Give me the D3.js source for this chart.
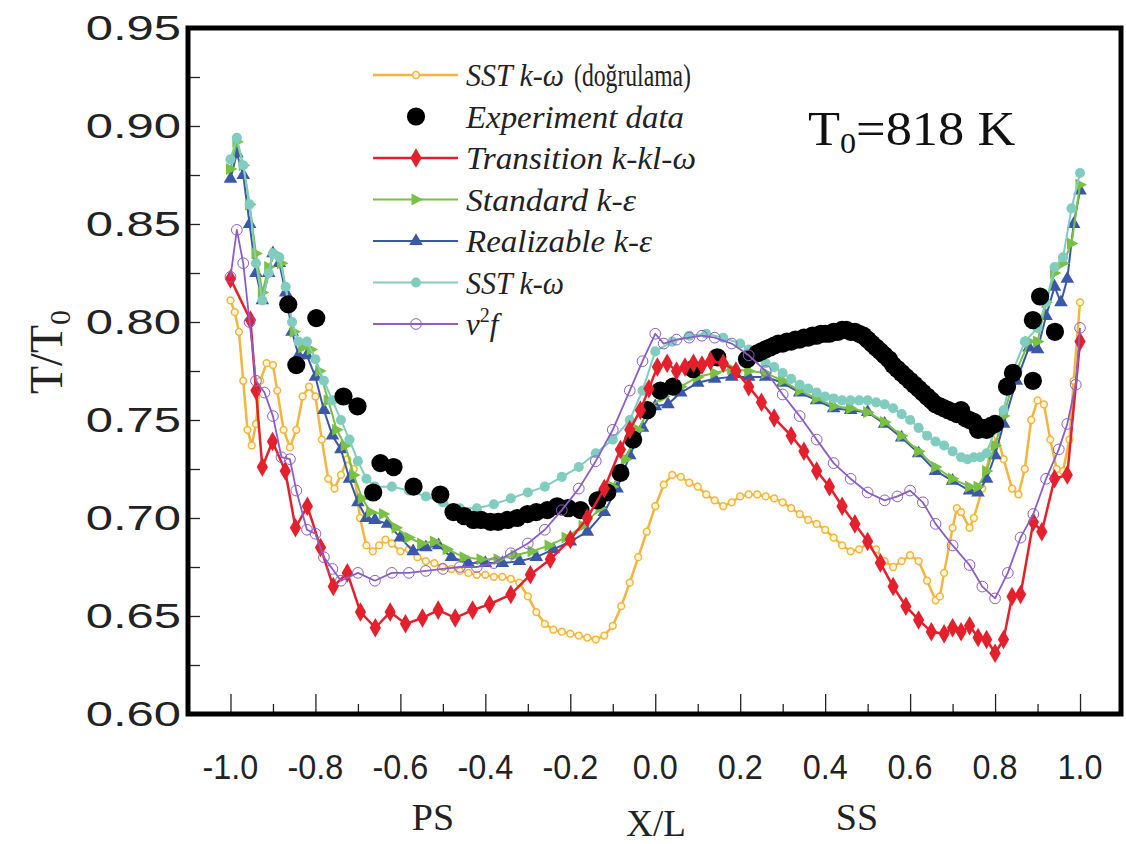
<!DOCTYPE html>
<html><head><meta charset="utf-8">
<script src="https://cdn.jsdelivr.net/npm/d3@7"></script>
<style>body{margin:0;background:#fff}svg{display:block}</style>
</head><body><svg id="c" width="1126" height="844"></svg>
<script>
// ---- data ----
const xTicks = [-1.0,-0.8,-0.6,-0.4,-0.2,0.0,0.2,0.4,0.6,0.8,1.0];
const yTicks = [0.60,0.65,0.70,0.75,0.80,0.85,0.90,0.95];

const sstValidation = [[-1.0,0.811],[-0.99,0.805],[-0.98,0.795],[-0.97,0.77],[-0.96,0.745],[-0.95,0.737],[-0.94,0.748],[-0.93,0.77],[-0.915,0.779],[-0.90,0.778],[-0.89,0.765],[-0.875,0.745],[-0.86,0.736],[-0.845,0.745],[-0.83,0.762],[-0.815,0.767],[-0.80,0.762],[-0.785,0.74],[-0.77,0.72],[-0.755,0.715],[-0.74,0.722],[-0.725,0.73],[-0.71,0.725],[-0.695,0.70],[-0.68,0.686],[-0.665,0.683],[-0.65,0.686],[-0.635,0.689],[-0.62,0.687],[-0.60,0.683],[-0.58,0.684],[-0.56,0.68],[-0.54,0.678],[-0.52,0.677],[-0.50,0.675],[-0.48,0.674],[-0.46,0.673],[-0.44,0.672],[-0.42,0.671],[-0.40,0.671],[-0.38,0.670],[-0.36,0.670],[-0.34,0.669],[-0.32,0.667],[-0.30,0.660],[-0.28,0.652],[-0.26,0.646],[-0.24,0.643],[-0.22,0.642],[-0.20,0.641],[-0.18,0.640],[-0.16,0.639],[-0.14,0.638],[-0.12,0.640],[-0.10,0.645],[-0.08,0.655],[-0.06,0.667],[-0.04,0.68],[-0.02,0.693],[0.00,0.706],[0.02,0.717],[0.04,0.722],[0.06,0.721],[0.08,0.718],[0.10,0.716],[0.12,0.712],[0.14,0.709],[0.16,0.706],[0.18,0.708],[0.20,0.711],[0.22,0.712],[0.24,0.712],[0.26,0.711],[0.28,0.710],[0.30,0.708],[0.32,0.705],[0.34,0.702],[0.36,0.699],[0.38,0.697],[0.40,0.694],[0.42,0.690],[0.44,0.686],[0.46,0.683],[0.48,0.684],[0.50,0.687],[0.52,0.684],[0.54,0.678],[0.56,0.675],[0.58,0.678],[0.60,0.681],[0.62,0.678],[0.64,0.668],[0.66,0.658],[0.67,0.66],[0.68,0.672],[0.70,0.695],[0.71,0.705],[0.72,0.703],[0.74,0.695],[0.75,0.700],[0.77,0.715],[0.79,0.735],[0.805,0.742],[0.82,0.73],[0.84,0.715],[0.855,0.712],[0.87,0.725],[0.885,0.75],[0.90,0.76],[0.915,0.758],[0.93,0.74],[0.945,0.725],[0.96,0.724],[0.975,0.74],[0.985,0.77],[1.0,0.81]];

const experiment = [[-0.864,0.809],[-0.845,0.778],[-0.798,0.802],[-0.734,0.762],[-0.701,0.757],[-0.664,0.713],[-0.647,0.728],[-0.616,0.726],[-0.569,0.716],[-0.506,0.712],[-0.475,0.703],[-0.45,0.701],[-0.428,0.699],[-0.41,0.699],[-0.388,0.698],[-0.37,0.698],[-0.348,0.699],[-0.325,0.700],[-0.301,0.702],[-0.28,0.703],[-0.254,0.704],[-0.231,0.706],[-0.205,0.705],[-0.176,0.704],[-0.136,0.709],[-0.113,0.713],[-0.082,0.723],[-0.052,0.740],[-0.019,0.755],[0.012,0.765],[0.042,0.767],[0.089,0.776],[0.146,0.782],[0.216,0.781],[0.24,0.784],[0.25,0.785],[0.26,0.786],[0.27,0.787],[0.28,0.788],[0.29,0.789],[0.30,0.789],[0.31,0.790],[0.32,0.790],[0.33,0.791],[0.34,0.791],[0.35,0.792],[0.36,0.792],[0.37,0.793],[0.38,0.793],[0.39,0.794],[0.40,0.794],[0.41,0.794],[0.42,0.795],[0.43,0.795],[0.44,0.796],[0.45,0.796],[0.46,0.795],[0.47,0.795],[0.48,0.794],[0.49,0.793],[0.50,0.791],[0.51,0.789],[0.52,0.787],[0.53,0.785],[0.54,0.783],[0.55,0.781],[0.56,0.778],[0.57,0.776],[0.58,0.774],[0.59,0.772],[0.60,0.770],[0.61,0.768],[0.62,0.766],[0.63,0.764],[0.64,0.762],[0.65,0.760],[0.66,0.758],[0.67,0.757],[0.68,0.756],[0.69,0.755],[0.70,0.754],[0.71,0.753],[0.72,0.755],[0.73,0.751],[0.74,0.750],[0.75,0.749],[0.76,0.745],[0.77,0.746],[0.78,0.745],[0.79,0.747],[0.80,0.748],[0.828,0.767],[0.842,0.774],[0.889,0.770],[0.889,0.801],[0.906,0.813],[0.941,0.795]];

const transition = [[-1.0,0.822],[-0.953,0.801],[-0.94,0.765],[-0.925,0.726],[-0.901,0.739],[-0.871,0.724],[-0.847,0.695],[-0.819,0.706],[-0.788,0.685],[-0.758,0.665],[-0.725,0.672],[-0.694,0.652],[-0.659,0.644],[-0.624,0.652],[-0.588,0.646],[-0.548,0.649],[-0.511,0.653],[-0.471,0.649],[-0.43,0.653],[-0.39,0.656],[-0.34,0.661],[-0.294,0.671],[-0.247,0.679],[-0.2,0.689],[-0.16,0.700],[-0.12,0.715],[-0.082,0.735],[-0.06,0.745],[-0.035,0.755],[-0.015,0.766],[0.005,0.777],[0.028,0.779],[0.05,0.775],[0.07,0.777],[0.09,0.779],[0.11,0.778],[0.13,0.78],[0.16,0.779],[0.19,0.775],[0.22,0.767],[0.25,0.759],[0.28,0.751],[0.32,0.742],[0.35,0.734],[0.38,0.724],[0.41,0.716],[0.44,0.706],[0.47,0.697],[0.50,0.688],[0.53,0.677],[0.56,0.665],[0.59,0.655],[0.62,0.648],[0.65,0.642],[0.68,0.641],[0.70,0.644],[0.72,0.642],[0.74,0.645],[0.76,0.639],[0.78,0.638],[0.80,0.631],[0.82,0.638],[0.84,0.66],[0.86,0.661],[0.89,0.698],[0.91,0.693],[0.94,0.72],[0.97,0.722],[1.0,0.79]];

const standardKE = [[-1.0,0.878],[-0.985,0.892],[-0.97,0.88],[-0.955,0.86],[-0.94,0.835],[-0.925,0.815],[-0.91,0.828],[-0.895,0.835],[-0.88,0.83],[-0.865,0.81],[-0.85,0.795],[-0.83,0.787],[-0.81,0.786],[-0.79,0.775],[-0.77,0.76],[-0.75,0.745],[-0.73,0.737],[-0.71,0.722],[-0.69,0.71],[-0.67,0.703],[-0.64,0.702],[-0.61,0.695],[-0.58,0.69],[-0.55,0.687],[-0.52,0.688],[-0.49,0.684],[-0.45,0.68],[-0.41,0.679],[-0.37,0.679],[-0.33,0.681],[-0.29,0.683],[-0.25,0.686],[-0.21,0.69],[-0.17,0.696],[-0.13,0.705],[-0.10,0.716],[-0.07,0.73],[-0.04,0.745],[-0.01,0.757],[0.02,0.762],[0.06,0.767],[0.10,0.772],[0.14,0.774],[0.18,0.776],[0.22,0.775],[0.26,0.774],[0.30,0.77],[0.34,0.765],[0.38,0.761],[0.42,0.757],[0.46,0.756],[0.50,0.754],[0.54,0.749],[0.58,0.742],[0.62,0.734],[0.66,0.726],[0.70,0.72],[0.74,0.716],[0.76,0.716],[0.78,0.724],[0.80,0.737],[0.82,0.752],[0.85,0.775],[0.88,0.79],[0.90,0.79],[0.92,0.81],[0.94,0.825],[0.96,0.83],[0.98,0.84],[1.0,0.87]];

const realizableKE = [[-1.0,0.873],[-0.985,0.886],[-0.97,0.875],[-0.955,0.85],[-0.94,0.825],[-0.925,0.811],[-0.91,0.825],[-0.9,0.835],[-0.885,0.83],[-0.87,0.815],[-0.855,0.795],[-0.84,0.783],[-0.82,0.783],[-0.80,0.772],[-0.78,0.755],[-0.76,0.742],[-0.74,0.735],[-0.72,0.72],[-0.70,0.708],[-0.68,0.700],[-0.66,0.699],[-0.63,0.697],[-0.60,0.69],[-0.57,0.683],[-0.54,0.685],[-0.51,0.686],[-0.48,0.68],[-0.44,0.677],[-0.40,0.677],[-0.36,0.677],[-0.32,0.678],[-0.28,0.68],[-0.24,0.684],[-0.20,0.688],[-0.16,0.693],[-0.12,0.703],[-0.09,0.715],[-0.06,0.732],[-0.03,0.746],[0.00,0.757],[0.03,0.758],[0.06,0.764],[0.10,0.769],[0.14,0.771],[0.18,0.772],[0.22,0.772],[0.26,0.772],[0.30,0.769],[0.34,0.764],[0.38,0.76],[0.42,0.756],[0.46,0.755],[0.50,0.754],[0.54,0.748],[0.58,0.741],[0.62,0.733],[0.66,0.724],[0.70,0.719],[0.74,0.714],[0.76,0.713],[0.78,0.72],[0.80,0.732],[0.82,0.748],[0.85,0.77],[0.88,0.787],[0.90,0.786],[0.92,0.803],[0.94,0.818],[0.955,0.81],[0.97,0.822],[0.985,0.85],[1.0,0.867]];

const sstKW = [[-1.0,0.883],[-0.985,0.894],[-0.97,0.88],[-0.955,0.86],[-0.94,0.83],[-0.925,0.811],[-0.91,0.825],[-0.9,0.835],[-0.885,0.833],[-0.87,0.818],[-0.855,0.80],[-0.84,0.79],[-0.82,0.79],[-0.80,0.781],[-0.78,0.77],[-0.76,0.76],[-0.74,0.75],[-0.72,0.74],[-0.70,0.729],[-0.68,0.72],[-0.66,0.716],[-0.62,0.716],[-0.58,0.714],[-0.54,0.711],[-0.50,0.708],[-0.46,0.705],[-0.42,0.705],[-0.38,0.707],[-0.34,0.71],[-0.30,0.713],[-0.26,0.716],[-0.22,0.721],[-0.18,0.726],[-0.14,0.733],[-0.10,0.74],[-0.06,0.75],[-0.03,0.765],[0.00,0.785],[0.04,0.79],[0.08,0.793],[0.12,0.794],[0.16,0.792],[0.20,0.789],[0.22,0.786],[0.24,0.782],[0.26,0.779],[0.28,0.777],[0.30,0.774],[0.32,0.771],[0.34,0.768],[0.36,0.766],[0.38,0.764],[0.40,0.762],[0.42,0.761],[0.44,0.76],[0.46,0.76],[0.48,0.76],[0.50,0.76],[0.52,0.759],[0.54,0.758],[0.56,0.756],[0.58,0.753],[0.60,0.75],[0.62,0.746],[0.64,0.742],[0.66,0.739],[0.68,0.737],[0.70,0.734],[0.72,0.731],[0.735,0.730],[0.75,0.731],[0.765,0.731],[0.78,0.733],[0.80,0.745],[0.82,0.755],[0.84,0.774],[0.87,0.79],[0.90,0.797],[0.92,0.81],[0.94,0.828],[0.96,0.833],[0.98,0.858],[1.0,0.876]];

const v2f = [[-1.0,0.823],[-0.985,0.847],[-0.97,0.83],[-0.955,0.80],[-0.94,0.77],[-0.92,0.764],[-0.90,0.752],[-0.88,0.731],[-0.86,0.73],[-0.845,0.714],[-0.82,0.694],[-0.80,0.692],[-0.78,0.68],[-0.76,0.674],[-0.74,0.668],[-0.70,0.672],[-0.66,0.668],[-0.62,0.672],[-0.58,0.672],[-0.54,0.673],[-0.50,0.674],[-0.46,0.675],[-0.42,0.675],[-0.38,0.677],[-0.34,0.682],[-0.30,0.687],[-0.26,0.694],[-0.22,0.704],[-0.18,0.715],[-0.14,0.729],[-0.10,0.745],[-0.06,0.765],[-0.03,0.78],[0.00,0.794],[0.02,0.789],[0.05,0.791],[0.08,0.792],[0.11,0.793],[0.14,0.792],[0.18,0.789],[0.22,0.783],[0.26,0.775],[0.30,0.763],[0.34,0.752],[0.38,0.74],[0.42,0.728],[0.46,0.72],[0.50,0.713],[0.54,0.709],[0.57,0.711],[0.60,0.714],[0.63,0.708],[0.66,0.697],[0.70,0.686],[0.74,0.676],[0.77,0.665],[0.80,0.659],[0.83,0.672],[0.86,0.69],[0.89,0.702],[0.92,0.72],[0.95,0.735],[0.97,0.748],[0.99,0.768],[1.0,0.797]];

// ---- layout ----
const svg = d3.select('#c');
const L = 188, R = 1121, T = 28, B = 714;
const x = d3.scaleLinear().domain([-1.1, 1.1]).range([L, R + 1.5]);
const y = d3.scaleLinear().domain([0.60, 0.95]).range([B, T]);

const serif = 'Liberation Serif, Times New Roman, serif';
const sans = 'Liberation Sans, Arial, sans-serif';

// axes ticks (inward)
const xAxis = svg.append('g').attr('transform', `translate(0,${B})`)
  .call(d3.axisTop(x).tickValues(d3.range(-10, 11, 1).map(d => d / 10)).tickSize(0).tickFormat(''));
xAxis.select('.domain').remove();
xAxis.selectAll('.tick line').attr('y2', (d) => Math.round(d * 10) % 2 === 0 ? -20 : -10).attr('stroke', '#222').attr('stroke-width', 1.3);

const yAxis = svg.append('g').attr('transform', `translate(${L},0)`)
  .call(d3.axisRight(y).tickValues(d3.range(24, 38, 1).map(d => d / 40)).tickSize(0).tickFormat(''));
yAxis.select('.domain').remove();
yAxis.selectAll('.tick line').attr('x2', 12).attr('stroke', '#222').attr('stroke-width', 1.3);

// tick labels
svg.append('g').selectAll('text').data(yTicks).join('text')
  .attr('transform', d => `translate(181,${y(d) + 12}) scale(1.4,1)`)
  .attr('text-anchor', 'end').attr('font-family', sans).attr('font-size', 35).attr('fill', '#222')
  .text(d => d.toFixed(2));
svg.append('g').selectAll('text').data(xTicks).join('text')
  .attr('transform', d => `translate(${x(d)},779) scale(0.9,1)`)
  .attr('text-anchor', 'middle').attr('font-family', sans).attr('font-size', 36).attr('fill', '#222')
  .text(d => d.toFixed(1));

// axis titles
const yt = svg.append('text').attr('transform', 'translate(62,352) rotate(-90)')
  .attr('text-anchor', 'middle').attr('font-family', serif).attr('font-size', 46).attr('fill', '#222');
yt.append('tspan').text('T/T');
yt.append('tspan').attr('font-size', 30).attr('dy', 8).text('0');

svg.append('text').attr('x', 433).attr('y', 830).attr('text-anchor', 'middle').attr('font-family', serif).attr('font-size', 38).attr('fill', '#222').text('PS');
svg.append('text').attr('x', 656).attr('y', 836).attr('text-anchor', 'middle').attr('font-family', serif).attr('font-size', 37).attr('fill', '#222').text('X/L');
svg.append('text').attr('x', 857).attr('y', 830).attr('text-anchor', 'middle').attr('font-family', serif).attr('font-size', 38).attr('fill', '#222').text('SS');

// T0 annotation
const t0 = svg.append('text').attr('transform', 'translate(808,145) scale(1.07,1)').attr('font-family', serif).attr('font-size', 49).attr('fill', '#111');
t0.append('tspan').text('T');
t0.append('tspan').attr('font-size', 30).attr('dy', 8).text('0');
t0.append('tspan').attr('dy', -8).text('=818 K');

// ---- series ----
const line = d3.line().x(d => x(d[0])).y(d => y(d[1]));
const plot = svg.append('g');

const sym = (type, size) => d3.symbol().type(type).size(size)();
const triRight = 'M7,0L-4.5,6L-4.5,-6Z';

const series = [
  {data: sstValidation, color: '#f3b53c', w: 2.5, marker: {path: sym(d3.symbolCircle, 36), fill: '#fff6dc', stroke: '#f3b53c', sw: 1.5}},
  {data: realizableKE, color: '#3b58a8', w: 2, marker: {path: sym(d3.symbolTriangle, 80), fill: '#3b58a8', stroke: 'none'}},
  {data: standardKE, color: '#79c043', w: 2, marker: {path: triRight, fill: '#79c043', stroke: 'none'}},
  {data: sstKW, color: '#80cdc0', w: 2, marker: {path: sym(d3.symbolCircle, 80), fill: '#80cdc0', stroke: 'none'}},
  {data: experiment, color: null, marker: {path: sym(d3.symbolCircle, 260), fill: '#000', stroke: 'none'}},
  {data: transition, color: '#e4202c', w: 2.5, marker: {path: sym(d3.symbolDiamond, 110), fill: '#e4202c', stroke: 'none'}},
  {data: v2f, color: '#8a5ec6', w: 1.8, marker: {path: sym(d3.symbolCircle, 90), fill: 'none', stroke: '#8a5ec6', sw: 1}},
];

series.forEach(s => {
  const g = plot.append('g');
  if (s.color) g.append('path').datum(s.data).attr('d', line).attr('fill', 'none').attr('stroke', s.color).attr('stroke-width', s.w).attr('stroke-linejoin', 'round');
  g.selectAll('path.m').data(s.data).join('path').attr('class', 'm')
    .attr('transform', d => `translate(${x(d[0])},${y(d[1])})`)
    .attr('d', s.marker.path).attr('fill', s.marker.fill).attr('stroke', s.marker.stroke).attr('stroke-width', s.marker.sw || 0);
});

// frame
svg.append('rect').attr('x', L).attr('y', T).attr('width', R - L).attr('height', B - T)
  .attr('fill', 'none').attr('stroke', '#000').attr('stroke-width', 5);

// ---- legend ----
// each label: list of [text, italic, x, targetWidth]
const legendNames = [
  [['SST k-ω', true, 466, 98], ['(doğrulama)', false, 574, 117]],
  [['Experiment data', true, 466, 218]],
  [['Transition k-kl-ω', true, 466, 230]],
  [['Standard k-ε', true, 466, 170]],
  [['Realizable k-ε', true, 466, 186]],
  [['SST k-ω', true, 466, 98]],
  null
];
const legendOrder = [0, 4, 5, 2, 1, 3, 6];
const lg = svg.append('g');
legendOrder.forEach((si, i) => {
  const s = series[si];
  const ly = 75 + i * 41.5;
  const g = lg.append('g').attr('transform', `translate(0,${ly})`);
  if (s.color) g.append('line').attr('x1', 373).attr('x2', 458).attr('y1', 0).attr('y2', 0).attr('stroke', s.color).attr('stroke-width', s.w);
  g.append('path').attr('transform', 'translate(416,0)').attr('d', s.marker.path).attr('fill', s.marker.fill).attr('stroke', s.marker.stroke).attr('stroke-width', s.marker.sw || 0);
  const parts = legendNames[i];
  if (parts) {
    parts.forEach(p => {
      g.append('text').attr('x', p[2]).attr('y', 11).attr('font-family', serif).attr('font-size', 31)
        .attr('font-style', p[1] ? 'italic' : 'normal').attr('fill', '#222')
        .attr('textLength', p[3]).attr('lengthAdjust', 'spacingAndGlyphs').text(p[0]);
    });
  } else {
    const t = g.append('text').attr('x', 466).attr('y', 11).attr('font-family', serif).attr('font-size', 31).attr('fill', '#222');
    t.append('tspan').attr('font-style', 'italic').text('v');
    t.append('tspan').attr('font-size', 20).attr('dy', -13).text('2');
    t.append('tspan').attr('font-style', 'italic').attr('dy', 13).text('f');
  }
});
</script></body></html>
